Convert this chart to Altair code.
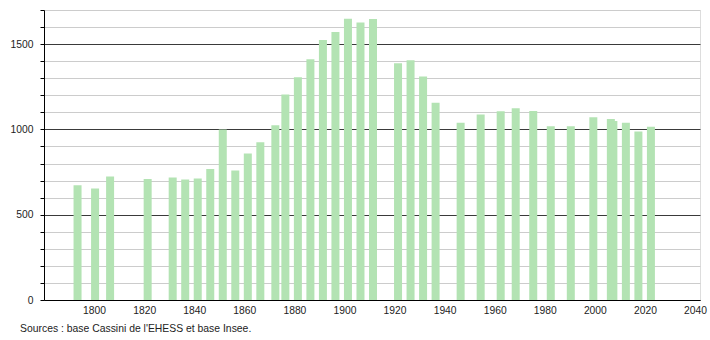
import altair as alt
import pandas as pd

years = [1793, 1800, 1806, 1821, 1831, 1836, 1841, 1846, 1851, 1856, 1861, 1866,
         1872, 1876, 1881, 1886, 1891, 1896, 1901, 1906, 1911, 1921, 1926, 1931,
         1936, 1946, 1954, 1962, 1968, 1975, 1982, 1990, 1999, 2006, 2007, 2012,
         2017, 2022]
population = [672, 653, 724, 710, 718, 706, 712, 768, 1000, 759, 859, 925,
              1024, 1204, 1306, 1412, 1524, 1571, 1649, 1627, 1647, 1388, 1406, 1310,
              1157, 1039, 1088, 1106, 1124, 1108, 1018, 1018, 1071, 1061, 1049, 1039,
              988, 1016]
x_ticks = [1800, 1820, 1840, 1860, 1880, 1900, 1920, 1940, 1960, 1980, 2000, 2020, 2040]
y_ticks = list(range(0, 1800, 100))
source_text = "Sources : base Cassini de l'EHESS et base Insee."

df = pd.DataFrame({"year": years, "pop": population})

bars = alt.Chart(df).mark_bar(width=8, color="#b3e3b3", xOffset=1).encode(
    x=alt.X("year:Q",
            scale=alt.Scale(domain=[1780, 2042], nice=False, zero=False, padding=0),
            axis=alt.Axis(values=x_ticks, format="d", title=None, grid=False,
                          ticks=False, domainColor="#000", domainWidth=1,
                          labelFont="Liberation Sans", labelFontSize=10.3,
                          labelColor="#222", labelPadding=5, labelFlush=False)),
    y=alt.Y("pop:Q",
            scale=alt.Scale(domain=[0, 1700], nice=False, padding=0),
            axis=alt.Axis(values=y_ticks, format="d", title=None, grid=True,
                          gridColor={"condition": {"test": "datum.value % 500 === 0", "value": "#3a3a3a"},
                                     "value": "#cccccc"},
                          gridWidth=1,
                          labelExpr="datum.value % 500 === 0 ? datum.label : ''",
                          tickSize=4, tickColor="#000", domainColor="#000",
                          labelFont="Liberation Sans", labelFontSize=10.3,
                          labelColor="#222", labelPadding=7)),
)

chart = bars.properties(
    width=656, height=290,
    title=alt.TitleParams(text=source_text, orient="bottom", anchor="start",
                          frame="group",
                          font="Liberation Sans", fontSize=10.4, fontWeight="normal",
                          color="#222", dx=-24, offset=9),
    autosize=alt.AutoSizeParams(type="none"),
    padding={"left": 44, "top": 10, "right": 10, "bottom": 40},
).configure_view(stroke=None).configure(background="white")

chart.save("out.html", embed_options={"renderer": "svg", "actions": False})
